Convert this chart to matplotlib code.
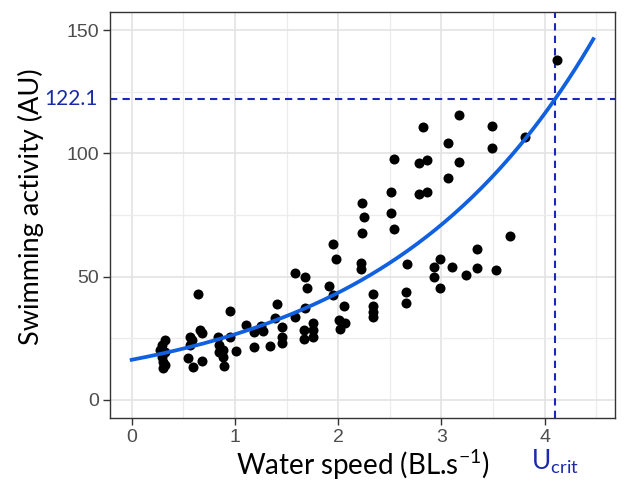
import numpy as np
import matplotlib.pyplot as plt

# Daten
speed = [0.32, 0.29, 0.27, 0.32, 0.29, 0.30, 0.32, 0.30,
         0.56, 0.58, 0.56, 0.66, 0.68, 0.55, 0.59, 0.68, 0.64,
         0.84, 0.85, 0.88, 0.85, 0.88, 0.89, 0.95, 0.95, 1.01,
         1.11, 1.18, 1.18, 1.25, 1.27, 1.34, 1.41, 1.39, 1.46, 1.46, 1.46,
         1.58, 1.68, 1.70, 1.68, 1.58, 1.67, 1.67, 1.76, 1.76, 1.76,
         1.91, 1.95, 1.95, 1.98, 2.06, 2.01, 2.02, 2.07,
         2.22, 2.22, 2.23, 2.25, 2.23, 2.34, 2.34, 2.34, 2.34,
         2.51, 2.51, 2.54, 2.54, 2.67, 2.66, 2.66,
         2.78, 2.78, 2.82, 2.86, 2.86, 2.93, 2.93, 2.99, 2.99,
         3.06, 3.06, 3.10, 3.17, 3.17, 3.24, 3.34, 3.34,
         3.49, 3.49, 3.53, 3.66, 3.81, 4.12]
activity = [24.3, 22.3, 20.3, 19.5, 17.4, 15.4, 14.2, 13.0,
            25.5, 24.3, 22.3, 28.4, 27.2, 17.0, 13.4, 15.8, 43.0,
            25.5, 22.3, 20.3, 19.5, 17.4, 13.8, 36.1, 25.5, 19.9,
            30.4, 27.6, 21.5, 30.0, 28.0, 21.9, 38.9, 33.2, 29.6, 25.5, 23.1,
            51.5, 49.9, 45.4, 37.3, 33.6, 28.4, 24.7, 31.2, 28.4, 25.5,
            46.2, 42.6, 63.2, 57.2, 38.1, 32.4, 28.8, 31.2,
            55.5, 53.1, 79.9, 74.2, 67.7, 43.0, 38.1, 35.7, 33.6,
            84.3, 75.8, 97.6, 69.3, 55.1, 43.8, 39.3,
            96.2, 83.5, 110.7, 97.3, 84.3, 53.9, 49.9, 57.2, 45.4,
            104.2, 90.0, 53.9, 115.5, 96.5, 50.7, 61.2, 53.5,
            111.1, 102.1, 52.7, 66.5, 106.6, 137.8]

# exponentielle Anpassung y = a * exp(b * x)
fit_a = 16.3
fit_b = 0.491
fit_xmax = 4.47

u_crit = 4.1
act_crit = 122.1

blue_dark = '#1a28b8'
blue_text = '#1a2aa8'
blue_fit = '#1060e0'

plt.rcParams['mathtext.fontset'] = 'custom'
plt.rcParams['mathtext.rm'] = 'Lato'

fig = plt.figure(figsize=(6.26, 4.83), dpi=100)
ax = fig.add_axes([0.1757, 0.1346, 0.8067, 0.8404])

# Gitter wie ggplot theme_bw
ax.set_xticks([0, 1, 2, 3, 4])
ax.set_xticks([0.5, 1.5, 2.5, 3.5, 4.5], minor=True)
ax.set_yticks([0, 50, 100, 150])
ax.set_yticks([25, 75, 125], minor=True)
ax.grid(True, which='major', color='#e3e3e3', lw=1.2, zorder=0)
ax.grid(True, which='minor', color='#ececec', lw=0.9, zorder=0)
ax.set_axisbelow(True)

ax.scatter(speed, activity, s=52, color='black', zorder=3, linewidths=0)

xs = np.linspace(0, fit_xmax, 200)
ax.plot(xs, fit_a * np.exp(fit_b * xs), color=blue_fit, lw=2.7, zorder=4)

ax.axhline(act_crit, color=blue_dark, lw=1.5, ls=(0, (3.5, 2.5)), zorder=2)
ax.axvline(u_crit, color=blue_dark, lw=1.5, ls=(0, (3.5, 2.5)), zorder=2)

ax.set_xlim(-0.21, 4.68)
ax.set_ylim(-7.3, 157.3)

for s in ax.spines.values():
    s.set_color('#333333')
    s.set_linewidth(1.0)
ax.tick_params(which='major', length=5, color='#333333', labelcolor='#4d4d4d',
               labelsize=14, width=1, pad=3)
ax.tick_params(which='minor', length=0)
for lab in ax.get_xticklabels() + ax.get_yticklabels():
    lab.set_family('Liberation Sans')

ax.set_xlabel(r'Water speed (BL.s$^{\mathregular{-1}}$)', family='Lato',
              fontsize=20, labelpad=1)
ax.set_ylabel('Swimming activity (AU)', family='Lato', fontsize=19.5,
              labelpad=16, y=0.52)

# Beschriftungen der kritischen Werte
ax.text(-0.325, act_crit, '122.1', transform=ax.transData, family='Lato',
        fontsize=15, color=blue_text, ha='right', va='center', clip_on=False)
fig.text((u_crit + 0.21) / 4.89 * 0.8067 + 0.1757, 0.027, r'U$_{\mathregular{crit}}$',
         family='Lato', fontsize=19, color=blue_text, ha='center', va='baseline')

fig.savefig('out.png', dpi=100)
